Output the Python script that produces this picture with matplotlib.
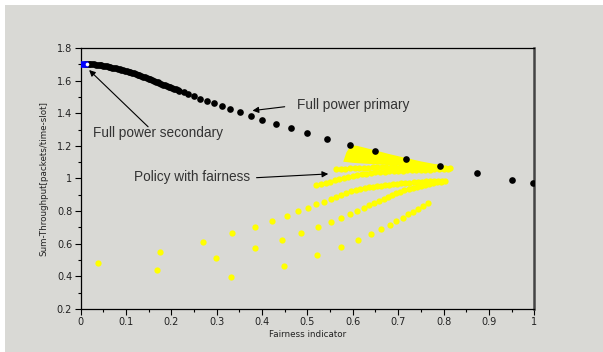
import matplotlib
matplotlib.use("Agg")
from matplotlib import pyplot as plt
from matplotlib.patches import Rectangle
from matplotlib.ticker import MultipleLocator

# black curve: full power primary
primary_x = [0.010, 0.014, 0.018, 0.022, 0.026, 0.030, 0.034, 0.038, 0.042, 0.046, 0.050, 0.054,
             0.058, 0.062, 0.066, 0.070, 0.074, 0.078, 0.082, 0.086, 0.090, 0.094, 0.098, 0.102,
             0.106, 0.110, 0.114, 0.118, 0.122, 0.126, 0.130, 0.134, 0.138, 0.142, 0.146, 0.150,
             0.154, 0.158, 0.162, 0.166, 0.170, 0.174, 0.178, 0.182, 0.186, 0.190, 0.194, 0.198,
             0.202, 0.206, 0.210, 0.214, 0.218, 0.227, 0.238, 0.251, 0.264, 0.279, 0.295, 0.312,
             0.330, 0.352, 0.375, 0.400, 0.430, 0.463, 0.499, 0.543, 0.593, 0.650, 0.717, 0.793,
             0.874, 0.952, 0.998]
primary_y = [1.705, 1.704, 1.703, 1.702, 1.701, 1.700, 1.698, 1.697, 1.695, 1.693, 1.691, 1.689,
             1.687, 1.685, 1.682, 1.680, 1.677, 1.675, 1.672, 1.669, 1.666, 1.663, 1.660, 1.657,
             1.654, 1.651, 1.647, 1.644, 1.640, 1.636, 1.632, 1.628, 1.624, 1.620, 1.616, 1.612,
             1.607, 1.603, 1.598, 1.594, 1.589, 1.585, 1.580, 1.576, 1.571, 1.567, 1.562, 1.559,
             1.555, 1.551, 1.547, 1.543, 1.538, 1.528, 1.516, 1.504, 1.489, 1.475, 1.461, 1.442,
             1.424, 1.406, 1.383, 1.360, 1.336, 1.308, 1.277, 1.244, 1.207, 1.167, 1.121, 1.076,
             1.032, 0.991, 0.970]

# blue: full power secondary
secondary_x = [0.000, 0.005, 0.010]
secondary_y = [1.700, 1.700, 1.700]
secondary_mark_x = [0.015]
secondary_mark_y = [1.703]

# yellow: policy with fairness (several curves)
a_x = [0.038, 0.175, 0.269, 0.334, 0.384, 0.423, 0.454, 0.480, 0.502, 0.520, 0.537, 0.551, 0.564,
       0.575, 0.586, 0.597, 0.607, 0.617, 0.626, 0.635, 0.644, 0.653, 0.662, 0.671, 0.680, 0.689,
       0.698, 0.707, 0.716, 0.725, 0.734, 0.743, 0.752, 0.761, 0.770, 0.779, 0.788, 0.797, 0.803]
a_y = [0.480, 0.551, 0.612, 0.664, 0.704, 0.741, 0.772, 0.799, 0.821, 0.842, 0.858, 0.874, 0.888,
       0.900, 0.913, 0.923, 0.929, 0.935, 0.940, 0.945, 0.949, 0.953, 0.957, 0.960, 0.963, 0.966,
       0.969, 0.971, 0.973, 0.975, 0.977, 0.979, 0.980, 0.982, 0.983, 0.984, 0.985, 0.986, 0.987]

b_x = [0.520, 0.530, 0.540, 0.550, 0.560, 0.570, 0.580, 0.590, 0.600, 0.610, 0.620, 0.630, 0.640,
       0.650, 0.660, 0.670, 0.680, 0.690, 0.700, 0.710, 0.720, 0.730, 0.740, 0.750, 0.760, 0.770,
       0.780, 0.790, 0.800, 0.810]
b_y = [0.958, 0.966, 0.974, 0.981, 0.989, 0.996, 1.003, 1.010, 1.016, 1.021, 1.026, 1.030, 1.034,
       1.037, 1.040, 1.042, 1.044, 1.046, 1.048, 1.049, 1.050, 1.051, 1.052, 1.053, 1.054, 1.055,
       1.056, 1.057, 1.058, 1.059]

c_x = [0.564, 0.574, 0.584, 0.594, 0.604, 0.614, 0.624, 0.634, 0.644, 0.654, 0.664, 0.674, 0.684,
       0.694, 0.704, 0.714, 0.724, 0.734, 0.744, 0.754, 0.764, 0.774, 0.784, 0.794, 0.804, 0.814]
c_y = [1.056, 1.058, 1.060, 1.062, 1.064, 1.065, 1.066, 1.067, 1.068, 1.068, 1.069, 1.069, 1.070,
       1.070, 1.070, 1.070, 1.070, 1.070, 1.070, 1.069, 1.069, 1.068, 1.068, 1.067, 1.066, 1.065]

d_x = [0.168, 0.298, 0.384, 0.443, 0.487, 0.524, 0.551, 0.574, 0.594, 0.610, 0.624, 0.636, 0.647,
       0.658, 0.668, 0.678, 0.687, 0.696, 0.705, 0.714, 0.723, 0.732, 0.741, 0.750, 0.759, 0.768,
       0.777, 0.786, 0.795]
d_y = [0.437, 0.511, 0.572, 0.623, 0.668, 0.701, 0.731, 0.760, 0.784, 0.802, 0.821, 0.837, 0.851,
       0.864, 0.876, 0.888, 0.899, 0.909, 0.918, 0.927, 0.935, 0.943, 0.950, 0.956, 0.962, 0.967,
       0.972, 0.976, 0.980]

e_x = [0.331, 0.448, 0.522, 0.574, 0.611, 0.640, 0.662, 0.681, 0.696, 0.710, 0.722, 0.733, 0.744,
       0.755, 0.766]
e_y = [0.394, 0.465, 0.529, 0.580, 0.623, 0.660, 0.690, 0.717, 0.739, 0.760, 0.780, 0.796, 0.813,
       0.829, 0.847]

# dense overlapping region near the primary curve
wedge_x = [0.579, 0.586, 0.596, 0.610, 0.630, 0.650, 0.680, 0.717, 0.750, 0.793, 0.822,
           0.800, 0.750, 0.700, 0.650, 0.600, 0.579]
wedge_y = [1.103, 1.160, 1.203, 1.200, 1.186, 1.172, 1.150, 1.126, 1.105, 1.082, 1.066,
           1.068, 1.074, 1.080, 1.087, 1.096, 1.103]

bg = "#d9d9d5"
fig = plt.figure(figsize=(6.03, 3.52), dpi=100, facecolor="white")
fig.patches.append(Rectangle((5 / 603, 0), 1, 1 - 5 / 352, transform=fig.transFigure,
                             facecolor=bg, edgecolor="none", zorder=-10))
ax = fig.add_axes([0.1335, 0.1222, 0.7525, 0.7414])
ax.set_facecolor(bg)

yellow = "#ffff00"
ax.fill(wedge_x, wedge_y, color=yellow, lw=0, zorder=2)
for xs, ys in [(a_x, a_y), (b_x, b_y), (c_x, c_y), (d_x, d_y), (e_x, e_y)]:
    ax.plot(xs, ys, ls="none", marker="o", ms=4.5, color=yellow, mec="none", zorder=3)

ax.plot(primary_x, primary_y, ls="none", marker="o", ms=4.8, color="black", mec="none", zorder=5)
ax.plot(secondary_x, secondary_y, ls="none", marker="s", ms=4.4, color="#0000ff", mec="none", zorder=6)
ax.plot(secondary_mark_x, secondary_mark_y, ls="none", marker="o", ms=2.6, color="white", mec="none", zorder=7)

arrow = dict(arrowstyle="-|>", color="black", lw=0.8, mutation_scale=9, shrinkA=0, shrinkB=0)
txt = dict(fontsize=9.8, color="#333333", family="Liberation Sans", ha="center", va="center")
ax.annotate("", xy=(0.019, 1.665), xytext=(0.149, 1.317), arrowprops=arrow, zorder=8)
ax.text(0.170, 1.279, "Full power secondary", **txt)
ax.annotate("", xy=(0.379, 1.416), xytext=(0.450, 1.440), arrowprops=arrow, zorder=8)
ax.text(0.600, 1.451, "Full power primary", **txt)
ax.annotate("", xy=(0.546, 1.028), xytext=(0.388, 1.005), arrowprops=arrow, zorder=8)
ax.text(0.246, 1.009, "Policy with fairness", **txt)

ax.set_xlim(0, 1)
ax.set_ylim(0.2, 1.8)
ax.xaxis.set_major_locator(MultipleLocator(0.1))
ax.xaxis.set_minor_locator(MultipleLocator(0.05))
ax.yaxis.set_major_locator(MultipleLocator(0.2))
ax.yaxis.set_minor_locator(MultipleLocator(0.1))
ax.set_xticklabels([f"{v:g}" for v in ax.get_xticks()])
ax.set_yticklabels([f"{v:g}" for v in ax.get_yticks()])
ax.tick_params(which="major", direction="out", length=4, width=0.8, labelsize=7,
               labelcolor="#222222", pad=2)
ax.tick_params(which="minor", direction="out", length=2.5, width=0.8)

for side in ["left", "bottom", "top"]:
    ax.spines[side].set_linewidth(0.9)
    ax.spines[side].set_color("black")
ax.spines["right"].set_linewidth(1.8)
ax.spines["right"].set_color("#444444")

ax.set_xlabel("Fairness indicator", fontsize=6.3, color="#222222", labelpad=2)
ax.set_ylabel("Sum-Throughput[packets/time-slot]", fontsize=6.3, color="#222222", labelpad=6)

plt.savefig("out.png", dpi=100, facecolor=fig.get_facecolor())
